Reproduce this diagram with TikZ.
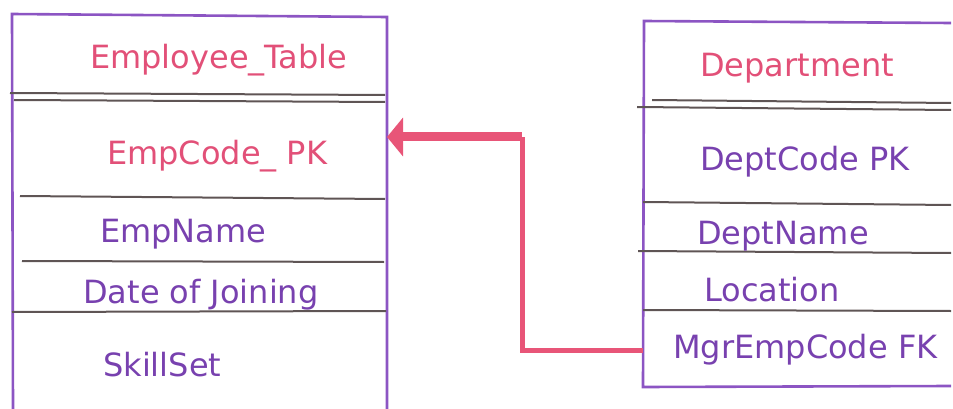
\documentclass[tikz,border=0pt]{standalone}
\usepackage{fontspec}
\setmainfont{DejaVu Sans}
\usetikzlibrary{arrows.meta}
\definecolor{boxpurple}{RGB}{140,85,195}
\definecolor{rowgray}{RGB}{95,85,85}
\definecolor{textpurple}{RGB}{120,65,175}
\definecolor{textpink}{RGB}{226,80,120}
\definecolor{linkpink}{RGB}{232,85,120}

\begin{document}
\begin{tikzpicture}[
        x=1pt, y=-1pt,
        frame/.style={draw=boxpurple, line width=2.6pt},
        rowline/.style={draw=rowgray, line width=2pt},
        field/.style={anchor=west, inner sep=0pt, text=textpurple, font=\fontsize{32}{36}\selectfont},
        title/.style={field, text=textpink},
        fkline/.style={draw=linkpink, line width=5pt},
        pkarrow/.style={draw=linkpink, line width=9pt, -{Triangle[length=16pt,width=38pt]}}
    ]
        \useasboundingbox (0,0) rectangle (953,409);

        \draw[frame] (13,409) -- (12,14) -- (387,17) -- (387,409);
        \draw[rowline] (10,93) -- (385,95);
        \draw[rowline] (14,100) -- (385,102);
        \draw[rowline] (20,196) -- (385,199);
        \draw[rowline] (22,261) -- (384,262);
        \draw[rowline] (12,312) -- (386,311);

        \node[title] (emptitle) at (90,60) {Employee\_Table};
        \node[title] (empcode) at (107,156) {EmpCode\_ PK};
        \node[field] (empname) at (100,234) {EmpName};
        \node[field] (doj) at (83,295) {Date of Joining};
        \node[field] (skills) at (103,365) {SkillSet};

        \draw[frame] (951,23) -- (644,21) -- (643,387) -- (951,386);
        \draw[rowline] (652,100) -- (951,103);
        \draw[rowline] (637,107) -- (951,110);
        \draw[rowline] (643,202) -- (951,205);
        \draw[rowline] (638,251) -- (951,253);
        \draw[rowline] (643,310) -- (951,311);

        \node[title] (depttitle) at (700,68) {Department};
        \node[field] (deptcode) at (700,162) {DeptCode PK};
        \node[field] (deptname) at (697,236) {DeptName};
        \node[field] (location) at (704,290) {Location};
        \node[field] (mgrcode) at (673,350) {MgrEmpCode FK};

        \coordinate (fkport) at (643,350);
        \coordinate (bend) at (522,137);
        \coordinate (pkport) at (387,137);

        \draw[fkline] (fkport) -| (bend);
        \draw[pkarrow] (bend) -- (pkport);
    \end{tikzpicture}
\end{document}
